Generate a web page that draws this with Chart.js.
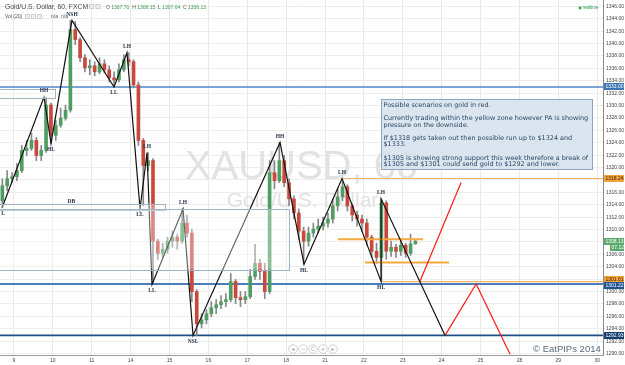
<!DOCTYPE html>
<html>
<head>
<title>XAUUSD 60</title>
<script src="https://cdn.jsdelivr.net/npm/chart.js"></script>
<style>
    html, body { margin: 0; padding: 0; background: #fff; }
    #wrap { width: 625px; height: 365px; }
</style>
</head>
<body>
<div id="wrap"><canvas id="goldChart" width="625" height="365"></canvas></div>
<script>
// trading days on the time axis (x = day number counted from the "9" line)
var dayLabels = ['9', '10', '11', '14', '15', '16', '17', '18', '21', '22', '23', '24', '25', '28', '29', '30'];
var priceTicks = [1290, 1292, 1294, 1296, 1298, 1300, 1302, 1304, 1306, 1308, 1310, 1312, 1314, 1316, 1318,
    1320, 1322, 1324, 1326, 1328, 1330, 1332, 1334, 1336, 1338, 1340, 1342, 1344, 1346];

// candles, 8 per trading day, first one 0.3 day before the "9" line
var firstCandle = -0.3;
var candlesPerDay = 8;
var opens = [1314.63, 1317.07, 1318.21, 1318.53, 1319.51, 1322.76, 1323.09, 1324.39, 1321.95, 1322.76,
    1330.08, 1325.20, 1326.82, 1327.96, 1329.26, 1342.27, 1340.65, 1337.72, 1336.09, 1336.42,
    1335.44, 1336.74, 1335.77, 1334.47, 1334.14, 1335.77, 1337.39, 1337.07, 1333.33, 1324.39,
    1320.32, 1321.13, 1308.13, 1306.17, 1306.83, 1308.13, 1308.78, 1308.13, 1311.05, 1309.43,
    1300.00, 1294.79, 1295.44, 1296.42, 1297.39, 1297.88, 1298.37, 1298.70, 1301.62, 1299.02,
    1298.70, 1299.18, 1302.43, 1304.55, 1303.25, 1300.00, 1319.18, 1317.88, 1321.13, 1317.56,
    1314.96, 1312.68, 1309.75, 1308.13, 1309.43, 1310.08, 1310.56, 1311.05, 1311.70, 1313.82,
    1315.28, 1316.91, 1313.82, 1312.35, 1311.70, 1311.05, 1308.78, 1306.50, 1305.52, 1314.30,
    1306.50, 1307.15, 1306.50, 1307.48, 1306.17, 1307.70];
var highs = [1318.21, 1319.51, 1319.18, 1320.65, 1323.57, 1324.39, 1325.52, 1324.87, 1323.57, 1331.38,
    1330.40, 1327.64, 1329.59, 1330.08, 1343.74, 1343.57, 1340.97, 1338.21, 1337.39, 1337.07,
    1337.72, 1337.39, 1336.42, 1335.44, 1336.74, 1338.21, 1338.53, 1337.39, 1333.82, 1324.71,
    1322.43, 1321.46, 1308.45, 1307.80, 1308.78, 1309.75, 1309.26, 1313.33, 1312.35, 1310.08,
    1300.32, 1296.42, 1297.07, 1298.37, 1298.70, 1299.35, 1299.67, 1302.92, 1301.95, 1300.00,
    1300.00, 1303.57, 1307.64, 1305.20, 1304.55, 1321.13, 1321.13, 1324.06, 1321.95, 1318.21,
    1315.44, 1313.33, 1310.40, 1310.40, 1311.05, 1311.70, 1312.03, 1312.68, 1314.96, 1316.58,
    1317.72, 1317.23, 1314.14, 1313.00, 1312.35, 1311.70, 1309.10, 1307.80, 1314.96, 1314.63,
    1308.13, 1307.64, 1308.45, 1307.80, 1309.26, 1308.40];
var lows = [1313.49, 1316.26, 1317.56, 1317.88, 1319.18, 1321.95, 1322.76, 1321.13, 1321.13, 1322.43,
    1323.90, 1324.39, 1326.50, 1327.64, 1328.94, 1339.83, 1337.07, 1335.44, 1334.95, 1334.79,
    1335.12, 1335.28, 1333.82, 1333.00, 1333.82, 1335.44, 1336.42, 1332.84, 1323.57, 1313.82,
    1319.51, 1301.30, 1305.20, 1305.52, 1306.17, 1307.15, 1306.83, 1307.80, 1308.78, 1298.37,
    1292.93, 1294.14, 1294.79, 1295.93, 1296.42, 1297.23, 1297.56, 1298.37, 1298.04, 1297.56,
    1298.04, 1298.86, 1301.95, 1301.95, 1298.86, 1299.67, 1316.58, 1317.56, 1316.91, 1313.82,
    1311.70, 1308.45, 1304.39, 1307.31, 1308.78, 1309.43, 1309.91, 1310.40, 1311.05, 1313.00,
    1314.63, 1313.00, 1311.38, 1310.56, 1309.75, 1307.48, 1305.52, 1304.55, 1301.78, 1305.20,
    1305.69, 1305.52, 1305.85, 1305.52, 1305.85, 1307.64];
var closes = [1317.07, 1318.21, 1318.53, 1319.51, 1322.76, 1323.09, 1324.39, 1321.95, 1322.76, 1330.08,
    1325.20, 1326.82, 1327.96, 1329.26, 1342.27, 1340.65, 1337.72, 1336.09, 1336.42, 1335.44,
    1336.74, 1335.77, 1334.47, 1334.14, 1335.77, 1337.39, 1337.07, 1333.33, 1324.39, 1320.32,
    1321.13, 1308.13, 1306.17, 1306.83, 1308.13, 1308.78, 1308.13, 1311.05, 1309.43, 1300.00,
    1294.79, 1295.44, 1296.42, 1297.39, 1297.88, 1298.37, 1298.70, 1301.62, 1299.02, 1298.70,
    1299.18, 1302.43, 1304.55, 1303.25, 1300.00, 1319.18, 1317.88, 1321.13, 1317.56, 1314.96,
    1312.68, 1309.75, 1308.13, 1309.43, 1310.08, 1310.56, 1311.05, 1311.70, 1313.82, 1315.28,
    1316.91, 1313.82, 1312.35, 1311.70, 1311.05, 1308.78, 1306.50, 1305.52, 1314.30, 1306.50,
    1307.15, 1306.50, 1307.48, 1306.17, 1307.70, 1308.13];

// hand drawn swing zigzag
var zigTime = [-0.309, 0.772, 0.952, 1.492, 2.573, 2.907, 3.242, 3.422, 3.550, 4.348, 4.605, 6.843,
    7.461, 8.438, 9.442, 9.442, 11.088];
var zigPrice = [1313.49, 1331.38, 1323.90, 1343.74, 1333.00, 1338.53, 1313.33, 1322.43, 1301.13, 1313.33,
    1292.93, 1324.06, 1304.39, 1318.24, 1301.61, 1314.96, 1292.93];
var swingNames = ['L', 'HH', 'HL', 'NSH', 'LL', 'LH', 'LL', 'LH', 'LL', 'LH', 'NSL', 'HH', 'HL', 'LH', 'HL', 'LH', ''];

// red scenarios
var bullTime = [10.44, 11.5];
var bullPrice = [1301.61, 1317.6];
var bearTime = [11.088, 11.886, 12.76];
var bearPrice = [1292.93, 1301.22, 1289.9];

// horizontal levels
var blueLevels = [1333.00, 1301.22, 1292.93];
var orangeLevels = [1318.24, 1301.61];
var orangeFrom = [8.438, 9.442];
var zonePrices = [1308.45, 1304.71];
var zoneFrom = [8.335, 9.03];
var zoneTo = [10.522, 11.19];

// rectangles
var boxFrom = [-1, -1, -1];
var boxTo = [1.055, 3.885, 7.075];
var boxTop = [1332.68, 1314.14, 1313.33];
var boxBottom = [1331.22, 1313.17, 1303.57];
var boxCaption = ['', 'DB', ''];

// price tags on the right axis
var tagPrices = [1333.00, 1318.24, 1308.13, 1307.12, 1301.61, 1301.22, 1292.93];

var noteParagraphs = [
    ['Possible scenarios on gold in red.'],
    ['Currently trading within the yellow zone however PA is showing', 'pressure on the downside.'],
    ['If $1318 gets taken out then possible run up to $1324 and', '$1333.'],
    ['$1305 is showing strong support this week therefore a break of', '$1305 and $1301 could send gold to $1292 and lower.']
];

var xMin = -0.36, xMax = 15.15;
var upColor = '#4f9d62', downColor = '#c9483c', wickColor = '#878787';

function pts(ts, ps) {
    return ts.map(function (t, i) { return { x: t, y: ps[i] }; });
}

var candleTimes = closes.map(function (c, i) { return firstCandle + i / candlesPerDay; });
var wickData = candleTimes.map(function (t, i) { return { x: t, y: [lows[i], highs[i]] }; });
var bodyData = candleTimes.map(function (t, i) { return { x: t, y: [opens[i], closes[i]] }; });
var bodyColors = closes.map(function (c, i) { return c >= opens[i] ? upColor : downColor; });

var datasets = [];
datasets.push({ type: 'line', data: pts(zigTime, zigPrice), borderColor: '#111', borderWidth: 1.2, pointRadius: 0, order: 1 });
datasets.push({ type: 'line', data: pts(bullTime, bullPrice), borderColor: '#ff1a1a', borderWidth: 1.2, pointRadius: 0, order: 1 });
datasets.push({ type: 'line', data: pts(bearTime, bearPrice), borderColor: '#ff1a1a', borderWidth: 1.2, pointRadius: 0, order: 1 });
zonePrices.forEach(function (p, i) {
    datasets.push({ type: 'line', data: pts([zoneFrom[i], zoneTo[i]], [p, p]), borderColor: '#f6a93f', borderWidth: 2, pointRadius: 0, order: 2 });
});
datasets.push({ type: 'bar', data: bodyData, backgroundColor: bodyColors, barThickness: 3, minBarLength: 1, grouped: false, order: 3 });
datasets.push({ type: 'bar', data: wickData, backgroundColor: wickColor, barThickness: 1, grouped: false, order: 4 });
var blueColors = ['#4f86c6', '#4a7ebb', '#1c4f86'];
var blueWidths = [1.6, 2, 1.6];
blueLevels.forEach(function (p, i) {
    datasets.push({ type: 'line', data: pts([xMin - 1, xMax + 1], [p, p]), borderColor: blueColors[i], borderWidth: blueWidths[i], pointRadius: 0, order: 5 });
});
orangeLevels.forEach(function (p, i) {
    datasets.push({ type: 'line', data: pts([orangeFrom[i], xMax + 1], [p, p]), borderColor: '#f7b463', borderWidth: 1.2, pointRadius: 0, order: 5 });
});

var overlay = {
    id: 'overlay',
    beforeDatasetsDraw: function (chart) {
        var c = chart.ctx, a = chart.chartArea;
        var cx = (a.left + a.right) / 2;
        c.save();
        c.fillStyle = '#e2e2e2';
        c.textAlign = 'center';
        c.textBaseline = 'alphabetic';
        c.font = '40px "Liberation Sans"';
        c.fillText('XAUUSD, 60', cx, 179);
        c.font = '21px "Liberation Sans"';
        c.fillText('Gold/U.S. Dollar', cx + 1, 207);
        c.restore();
    },
    afterDatasetsDraw: function (chart) {
        var c = chart.ctx, a = chart.chartArea;
        var x = chart.scales.x, y = chart.scales.y;
        c.save();
        c.beginPath();
        c.rect(a.left, a.top, a.right - a.left, a.bottom - a.top);
        c.clip();

        // rectangles
        c.strokeStyle = '#9fb3c2';
        c.lineWidth = 1;
        boxFrom.forEach(function (t, i) {
            var x0 = x.getPixelForValue(t), x1 = x.getPixelForValue(boxTo[i]);
            var y0 = y.getPixelForValue(boxTop[i]), y1 = y.getPixelForValue(boxBottom[i]);
            c.fillStyle = 'rgba(255,255,255,0.35)';
            c.fillRect(x0, y0, x1 - x0, y1 - y0);
            c.strokeRect(Math.round(x0) + 0.5, Math.round(y0) + 0.5, Math.round(x1 - x0), Math.round(y1 - y0));
            if (boxCaption[i]) {
                c.fillStyle = '#1e2b45';
                c.font = 'bold 5.5px "Liberation Serif"';
                c.textAlign = 'center';
                c.textBaseline = 'bottom';
                c.fillText(boxCaption[i], x0 + (x1 - x0) * 0.48 + 5, y0);
            }
        });

        // swing names
        c.fillStyle = '#1e2b45';
        c.font = 'bold 5.5px "Liberation Serif"';
        c.textAlign = 'center';
        c.textBaseline = 'middle';
        zigTime.forEach(function (t, i) {
            var name = swingNames[i];
            if (!name) return;
            var px = x.getPixelForValue(t), py = y.getPixelForValue(zigPrice[i]);
            var up = name.charAt(name.length - 1) === 'H';
            c.fillText(name, Math.max(px, 3), up ? py - 6 : py + 6);
        });
        c.restore();

        // note box
        c.save();
        c.fillStyle = 'rgba(214,226,237,0.9)';
        c.fillRect(381, 99, 211, 70);
        c.strokeStyle = '#8ea7be';
        c.strokeRect(381.5, 99.5, 211, 70);
        var longest = 0;
        c.font = '10px "DejaVu Sans"';
        noteParagraphs.forEach(function (para) {
            para.forEach(function (line) { longest = Math.max(longest, c.measureText(line).width); });
        });
        var size = 10 * 205 / longest;
        c.font = size + 'px "DejaVu Sans"';
        c.fillStyle = '#2d4864';
        c.textAlign = 'left';
        c.textBaseline = 'middle';
        var ly = 105;
        noteParagraphs.forEach(function (para) {
            para.forEach(function (line) {
                c.fillText(line, 383.5, ly);
                ly += 6.7;
            });
            ly += 6.5;
        });
        c.restore();
    },
    afterDraw: function (chart) {
        var c = chart.ctx, y = chart.scales.y;
        c.save();
        c.textBaseline = 'middle';
        c.textAlign = 'left';

        // header
        c.font = '6.8px "Liberation Sans"';
        c.fillStyle = '#4a4a4a';
        c.fillText('Gold/U.S. Dollar, 60, FXCM', 5, 7);
        c.strokeStyle = '#cfcfcf';
        c.fillStyle = '#efefef';
        [89, 95.5].forEach(function (ix) {
            c.fillRect(ix, 4, 5, 5);
            c.strokeRect(ix + 0.5, 4.5, 4, 4);
        });
        [25, 31, 37].forEach(function (ix) {
            c.fillRect(ix, 14, 5, 5);
            c.strokeRect(ix + 0.5, 14.5, 4, 4);
        });
        c.font = '5px "Liberation Sans"';
        var hx = 106;
        [['O', '1307.70'], ['H', '1308.15'], ['L', '1307.64'], ['C', '1308.13']].forEach(function (pair) {
            c.fillStyle = '#555';
            c.fillText(pair[0], hx, 7.5);
            hx += c.measureText(pair[0] + ' ').width;
            c.fillStyle = '#3d9a4f';
            c.fillText(pair[1], hx, 7.5);
            hx += c.measureText(pair[1] + '  ').width;
        });
        c.fillStyle = '#555';
        c.fillText('Vol (20)', 5, 16.5);
        c.fillText('n/a', 51, 16.5);
        c.fillText('n/a', 61, 16.5);

        // realtime flag
        c.fillStyle = '#2e9e4f';
        c.beginPath();
        c.arc(580, 8, 1.4, 0, Math.PI * 2);
        c.fill();
        c.font = '4.5px "Liberation Sans"';
        c.fillText('realtime', 582.5, 8);

        // price tags
        var tagFill = ['#3b77b4', '#f4a23c', '#5aa86a', '#5aa86a', '#f4a23c', '#1f5390', '#123f70'];
        var tagInk = ['#fff', '#3a2a10', '#fff', '#fff', '#3a2a10', '#fff', '#fff'];
        var ys = tagPrices.map(function (p) { return y.getPixelForValue(p); });
        for (var i = 1; i < ys.length; i++) {
            var gap = ys[i] - ys[i - 1];
            if (gap < 6) {
                ys[i - 1] -= (6 - gap) / 2;
                ys[i] += (6 - gap) / 2;
            }
        }
        c.font = '5px "Liberation Sans"';
        tagPrices.forEach(function (p, k) {
            var left = k === 3 ? 610 : 604;
            c.fillStyle = tagFill[k];
            c.fillRect(left, Math.round(ys[k] - 3.5), 624 - left, 7);
            c.fillStyle = tagInk[k];
            var txt = p.toFixed(2);
            c.fillText(k === 3 ? txt.slice(2) : txt, left + 1.5, Math.round(ys[k] - 3.5) + 3.8);
        });

        // navigation buttons
        var glyphs = ['\u25C2', '\u2212', 'C', '+', '\u25B8'];
        glyphs.forEach(function (g, k) {
            var bx = 293 + k * 10, by = 349;
            c.beginPath();
            c.arc(bx, by, 4.3, 0, Math.PI * 2);
            c.fillStyle = 'rgba(255,255,255,0.9)';
            c.fill();
            c.strokeStyle = '#c9c9c9';
            c.lineWidth = 0.8;
            c.stroke();
            c.fillStyle = '#a8a8a8';
            c.font = '6px "DejaVu Sans"';
            c.textAlign = 'center';
            c.fillText(g, bx, by + 0.3);
        });

        // copyright
        c.textAlign = 'left';
        c.fillStyle = '#5b6b7c';
        c.font = '9.5px "Liberation Sans"';
        c.fillText('\u00A9 EatPIPs 2014', 533, 349);
        c.restore();
    }
};

var chart = new Chart(document.getElementById('goldChart').getContext('2d'), {
    type: 'bar',
    data: { datasets: datasets },
    options: {
        responsive: false,
        devicePixelRatio: 1,
        animation: false,
        events: [],
        layout: { padding: 0 },
        plugins: { legend: { display: false }, tooltip: { enabled: false } },
        scales: {
            x: {
                type: 'linear',
                min: xMin,
                max: xMax,
                offset: false,
                afterBuildTicks: function (s) { s.ticks = dayLabels.map(function (d, i) { return { value: i }; }); },
                afterFit: function (s) { s.height = 10; s.paddingLeft = 0; s.paddingRight = 0; },
                grid: { color: '#e9e9e9', tickLength: 2, offset: false },
                border: { color: '#9a9a9a' },
                ticks: {
                    autoSkip: false, maxRotation: 0, padding: 1, color: '#444',
                    font: { size: 5, family: 'Liberation Sans' },
                    callback: function (v) { return dayLabels[v]; }
                }
            },
            y: {
                type: 'linear',
                position: 'right',
                min: 1289.77,
                max: 1347.03,
                afterBuildTicks: function (s) { s.ticks = priceTicks.map(function (v) { return { value: v }; }); },
                afterFit: function (s) { s.width = 22; s.paddingTop = 0; s.paddingBottom = 0; },
                grid: { color: '#ededed', tickLength: 2 },
                border: { color: '#8a8a8a' },
                ticks: {
                    padding: 1, color: '#444',
                    font: { size: 5, family: 'Liberation Sans' },
                    callback: function (v) {
                        var near = tagPrices.some(function (p) { return Math.abs(p - v) < 0.9; });
                        return near ? '' : v.toFixed(2);
                    }
                }
            }
        }
    },
    plugins: [overlay]
});
</script>
</body>
</html>
